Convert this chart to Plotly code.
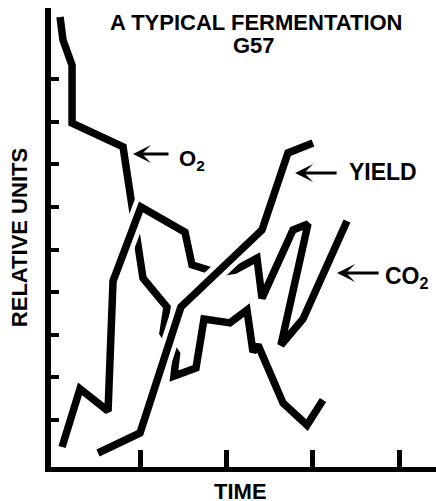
import plotly.graph_objects as go

# time / relative units (tick spacing = 1 unit)
o2_time = [0.07, 0.104, 0.209, 0.209, 0.80, 1.031, 1.309, 1.263, 1.42, 1.39, 1.645,
           1.738, 2.039, 2.236, 2.306, 2.364, 2.654, 2.932, 3.117]
o2_units = [10.46, 9.92, 9.33, 7.97, 7.41, 4.33, 3.65, 3.04, 2.55, 2.03, 2.22,
            3.37, 3.28, 3.58, 2.60, 2.76, 1.40, 0.88, 1.47]

co2_time = [0.093, 0.301, 0.626, 0.684, 1.008, 1.518, 1.599, 1.738, 1.90, 2.097,
            2.352, 2.41, 2.769, 2.943, 2.63, 2.885, 3.395]
co2_units = [0.366, 1.73, 1.21, 4.26, 6.00, 5.41, 4.64, 4.54, 4.45, 4.52,
             4.80, 3.86, 5.46, 5.60, 2.76, 3.37, 5.67]

yield_time = [0.51, 0.997, 1.47, 2.41, 2.711, 3.001]
yield_units = [0.225, 0.695, 3.65, 5.46, 7.27, 7.50]

time_ticks = [1, 2, 3, 4]
unit_ticks = [1, 2, 3, 4, 5, 6, 7, 8, 9]

FONT = 'Liberation Sans, Arial, Helvetica, sans-serif'
LW = 7.5
HALO = 17

fig = go.Figure()

fig.add_trace(go.Scatter(x=o2_time, y=o2_units, mode='lines',
                         line=dict(color='black', width=LW), hoverinfo='skip'))
# curves drawn on top get a white edge so the one beneath appears broken
for xs, ys in [(co2_time, co2_units), (yield_time, yield_units)]:
    fig.add_trace(go.Scatter(x=xs, y=ys, mode='lines',
                             line=dict(color='white', width=HALO), hoverinfo='skip'))
    fig.add_trace(go.Scatter(x=xs, y=ys, mode='lines',
                             line=dict(color='black', width=LW), hoverinfo='skip'))


def text(s, x, y, size, xanchor='center', angle=0):
    fig.add_annotation(text=s, x=x, y=y, xref='paper', yref='paper',
                       showarrow=False, xanchor=xanchor, yanchor='middle',
                       textangle=angle,
                       font=dict(family=FONT, size=size, color='black', weight='bold'))


def arrow(x, y, length):
    fig.add_annotation(text='', x=x, y=y, xref='paper', yref='paper',
                       ax=length, ay=0, showarrow=True, arrowhead=3,
                       arrowsize=1, arrowwidth=3, arrowcolor='black')


text('A TYPICAL FERMENTATION', 0.534, 0.968, 22)
text('G57', 0.527, 0.918, 22)
text('TIME', 0.491, -0.054, 22)
text('RELATIVE UNITS', -0.08, 0.499, 22, angle=-90)

text('O<sub>2</sub>', 0.327, 0.668, 22, xanchor='left')
text('YIELD', 0.769, 0.643, 23, xanchor='left')
text('CO<sub>2</sub>', 0.862, 0.413, 23, xanchor='left')

arrow(0.213, 0.682, 37)
arrow(0.634, 0.6405, 43)
arrow(0.743, 0.4227, 43)

fig.update_layout(
    width=436,
    height=501,
    autosize=False,
    showlegend=False,
    plot_bgcolor='white',
    paper_bgcolor='white',
    margin=dict(l=51, r=0, t=8, b=34, pad=0),
)
fig.update_xaxes(range=[-0.0348, 4.4264], showline=True, linewidth=5, linecolor='black',
                 ticks='inside', tickvals=time_ticks, ticklen=17, tickwidth=4.5,
                 tickcolor='black', showticklabels=False, showgrid=False, zeroline=False)
fig.update_yaxes(range=[-0.1033, 10.671], showline=True, linewidth=6, linecolor='black',
                 ticks='inside', tickvals=unit_ticks, ticklen=8, tickwidth=4,
                 tickcolor='black', showticklabels=False, showgrid=False, zeroline=False)

fig.write_html('out.html', config={'displayModeBar': False},
               post_script="document.body.style.margin='0';")
